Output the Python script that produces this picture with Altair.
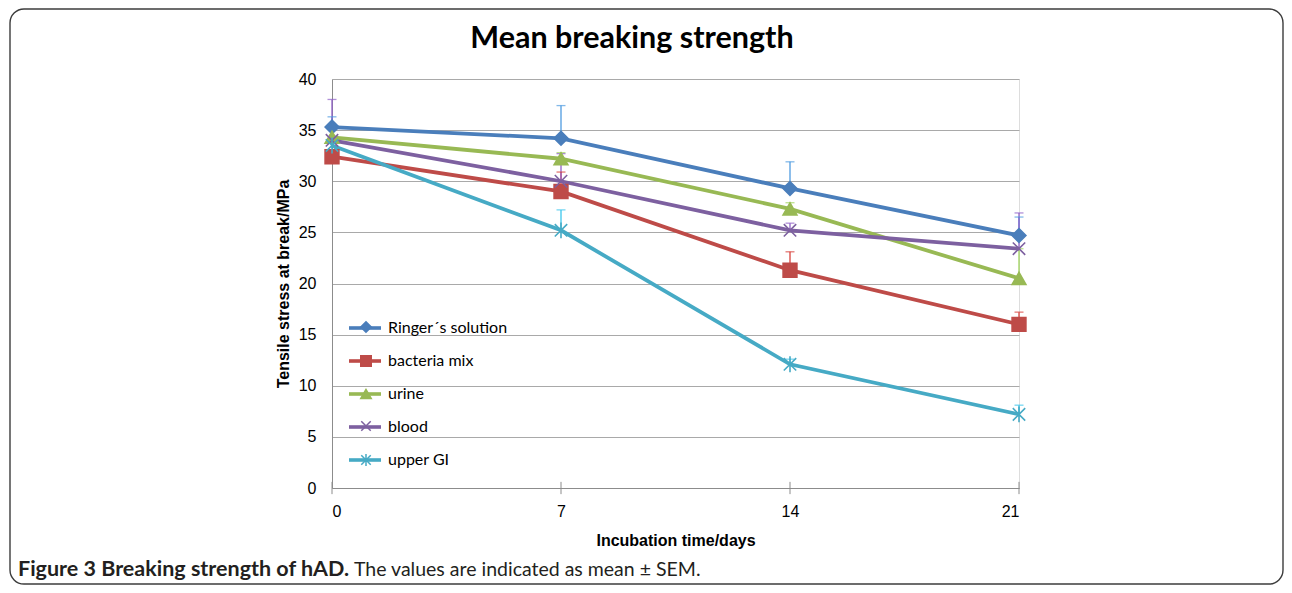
import altair as alt
import pandas as pd

days = [0, 7, 14, 21]
series = ["Ringer´s solution", "bacteria mix", "urine", "blood", "upper GI"]
ringer = [35.3, 34.2, 29.3, 24.7]
ringer_err = [1.0, 3.2, 2.6, 1.8]
bacteria = [32.4, 29.0, 21.3, 16.0]
bacteria_err = [0.5, 1.9, 1.8, 1.2]
urine = [34.3, 32.2, 27.3, 20.5]
urine_err = [0.8, 0.6, 0.6, 2.9]
blood = [34.0, 30.0, 25.2, 23.4]
blood_err = [4.0, 2.7, 0.7, 3.5]
upper_gi = [33.5, 25.2, 12.1, 7.2]
upper_gi_err = [0.5, 2.0, 0.5, 0.9]

y_ticks = [0, 5, 10, 15, 20, 25, 30, 35, 40]
line_colors = ["#4A7EBB", "#BE4B48", "#98B954", "#7D60A0", "#46AAC5"]
err_colors = ["#4F9BE0", "#D9413B", "#9ED35A", "#8F5FC8", "#3CC6EC"]
shapes = [
    "diamond",
    "square",
    "triangle-up",
    "M-0.9,-0.9L0.9,0.9M-0.9,0.9L0.9,-0.9",
    "M-0.9,-0.9L0.9,0.9M-0.9,0.9L0.9,-0.9M0,-1.15L0,1.15",
]

main_title = "Mean breaking strength"
caption_bold = "Figure 3 Breaking strength of hAD."
caption_rest = "The values are indicated as mean ± SEM."

rows = []
for name, vals, errs in zip(
    series,
    [ringer, bacteria, urine, blood, upper_gi],
    [ringer_err, bacteria_err, urine_err, blood_err, upper_gi_err],
):
    for d, v, e in zip(days, vals, errs):
        rows.append({"series": name, "day": d, "value": v, "top": v + e})
df = pd.DataFrame(rows)
tick_df = pd.DataFrame({"day": days})
one = pd.DataFrame({"a": [0]})

FONT = "Lato"

x_enc = alt.X(
    "day:Q",
    scale=alt.Scale(domain=[0, 21], nice=False),
    axis=alt.Axis(
        values=days,
        title="Incubation time/days",
        grid=False,
        ticks=False,
        labelPadding=15,
        labelFontSize=16,
        labelColor="#000000",
        domainColor="#8c8c8c",
        titleFontSize=16,
        titleFontWeight="bold",
        titleColor="#000000",
        titleY=52,
        titleBaseline="middle",
    ),
)
y_enc = alt.Y(
    "value:Q",
    scale=alt.Scale(domain=[0, 40], nice=False),
    axis=alt.Axis(
        values=y_ticks,
        title="Tensile stress at break/MPa",
        grid=True,
        gridColor="#a9a9a9",
        ticks=False,
        labelPadding=16,
        labelFontSize=16,
        labelColor="#000000",
        domainColor="#8c8c8c",
        titleFontSize=16,
        titleFontWeight="bold",
        titleColor="#000000",
        titleX=-49,
        titleY=204.5,
        titleAngle=-90,
        titleBaseline="middle",
    ),
)

sdom = alt.Scale(domain=series, range=line_colors)
edom = alt.Scale(domain=series, range=err_colors)

legend_common = dict(
    orient="none",
    legendX=15,
    title=None,
    padding=0,
    labelFont=FONT,
    labelFontSize=16,
    labelColor="#000000",
    labelOffset=5,
)

err_rule = alt.Chart(df).mark_rule(strokeWidth=1.3).encode(
    x=x_enc,
    y=y_enc,
    y2="top:Q",
    color=alt.Color("series:N", scale=edom, legend=None),
)
err_cap = alt.Chart(df).mark_tick(orient="horizontal", size=9, thickness=1.3).encode(
    x=x_enc,
    y=alt.Y("top:Q"),
    color=alt.Color("series:N", scale=edom, legend=None),
)

lines = alt.Chart(df).mark_line(strokeWidth=3.8).encode(
    x=x_enc,
    y=y_enc,
    color=alt.Color(
        "series:N",
        scale=sdom,
        legend=alt.Legend(
            symbolType="stroke",
            symbolSize=1024,
            symbolStrokeWidth=3.6,
            legendY=231,
            rowPadding=7,
            **legend_common,
        ),
    ),
)

pt_legend = alt.Legend(
    symbolSize=110,
    symbolStrokeWidth=1.5,
    symbolOffset=11,
    labelExpr="''",
    legendY=240,
    rowPadding=16,
    **legend_common,
)
points = alt.Chart(df).mark_point(filled=True, size=190, strokeWidth=1.6, opacity=1).encode(
    x=x_enc,
    y=y_enc,
    fill=alt.Fill("series:N", scale=sdom, legend=pt_legend),
    stroke=alt.Stroke("series:N", scale=sdom, legend=pt_legend),
    shape=alt.Shape("series:N", scale=alt.Scale(domain=series, range=shapes), legend=pt_legend),
)

x_ticks = alt.Chart(tick_df).mark_rule(color="#8c8c8c", strokeWidth=1).encode(
    x=alt.X("day:Q"),
    y=alt.datum(-0.6),
    y2=alt.datum(0.6),
)

frame = alt.Chart(one).mark_rect(
    cornerRadius=14, fillOpacity=0, stroke="#3c3c3c", strokeWidth=1.4
).encode(
    x=alt.value(-322), x2=alt.value(951), y=alt.value(-70), y2=alt.value(505)
)

title_txt = alt.Chart(one).mark_text(
    text=main_title, font=FONT, fontSize=30.5, fontWeight="bold", color="#000000",
    align="center", baseline="middle",
).encode(x=alt.value(300), y=alt.value(-40))

cap1 = alt.Chart(one).mark_text(
    text=caption_bold, font=FONT, fontSize=21.5, fontWeight="bold", color="#231f20",
    align="left", baseline="middle",
).encode(x=alt.value(-314), y=alt.value(491))

cap2 = alt.Chart(one).mark_text(
    text=caption_rest, font=FONT, fontSize=19.5, fontWeight="normal", color="#231f20",
    align="left", baseline="middle",
).encode(x=alt.value(22), y=alt.value(491))

chart = (
    alt.layer(frame, x_ticks, err_rule, err_cap, lines, points, title_txt, cap1, cap2)
    .resolve_scale(color="independent", fill="independent", stroke="independent", shape="independent")
    .properties(
        width=687,
        height=409,
        padding={"left": 324, "top": 71, "right": 265, "bottom": 97},
        autosize=alt.AutoSizeParams(type="none"),
    )
    .configure_view(stroke=None)
    .configure_axis(labelFont=FONT, titleFont=FONT)
    .configure(background="#ffffff")
)

chart.save("out.html", embed_options={"renderer": "svg", "actions": False})
